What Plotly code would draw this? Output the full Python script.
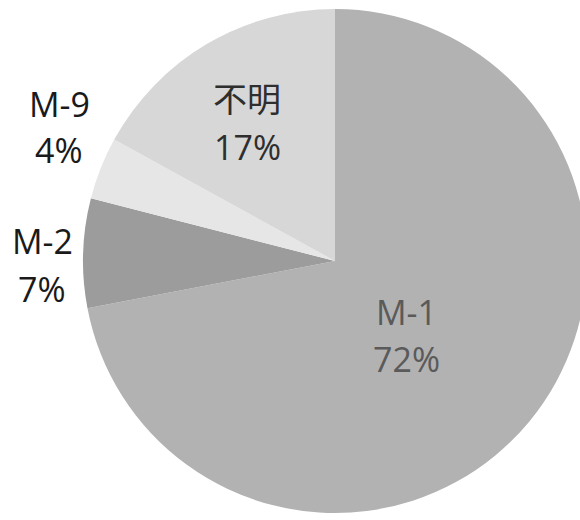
import plotly.graph_objects as go

# Share of each category (percent), drawn clockwise from 12 o'clock
categories = ["M-1", "M-2", "M-9", "不明"]
shares = [72, 7, 4, 17]
slice_colors = ["#b2b2b2", "#9c9c9c", "#e6e6e6", "#d7d7d7"]
text_colors = ["#5a5a5a", "#1a1a1a", "#1a1a1a", "#2e2e2e"]

# Label anchor points in pixels (centre x, name line y, value line y)
label_pixels = [(406, 312, 359), (42, 241, 289), (59, 104, 150), (247, 99, 147)]

W, H = 590, 520
M_L, M_R, M_T, M_B = 83, 3, 9, 7
plot_w = W - M_L - M_R
plot_h = H - M_T - M_B

fig = go.Figure(
    go.Pie(
        labels=categories,
        values=shares,
        sort=False,
        direction="clockwise",
        rotation=0,
        marker=dict(colors=slice_colors, line=dict(width=0)),
        textinfo="none",
        showlegend=False,
        automargin=False,
        hoverinfo="skip",
    )
)


def to_paper(px, py):
    return (px - M_L) / plot_w, (H - M_B - py) / plot_h


font_family = "Open Sans, Noto Sans CJK JP"
for name, share, color, (cx, y1, y2) in zip(categories, shares, text_colors, label_pixels):
    for line_text, ly in ((name, y1), (f"{share}%", y2)):
        ax, ay = to_paper(cx, ly)
        fig.add_annotation(
            x=ax, y=ay, xref="paper", yref="paper",
            text=line_text, showarrow=False,
            xanchor="center", yanchor="middle",
            font=dict(family=font_family, size=34, color=color),
        )

fig.update_layout(
    width=W,
    height=H,
    margin=dict(l=M_L, r=M_R, t=M_T, b=M_B),
    paper_bgcolor="white",
    plot_bgcolor="white",
)

fig.write_html(
    "out.html",
    config={"displayModeBar": False},
    post_script="document.documentElement.style.overflow='hidden';document.body.style.overflow='hidden';document.body.style.margin='0';",
)
